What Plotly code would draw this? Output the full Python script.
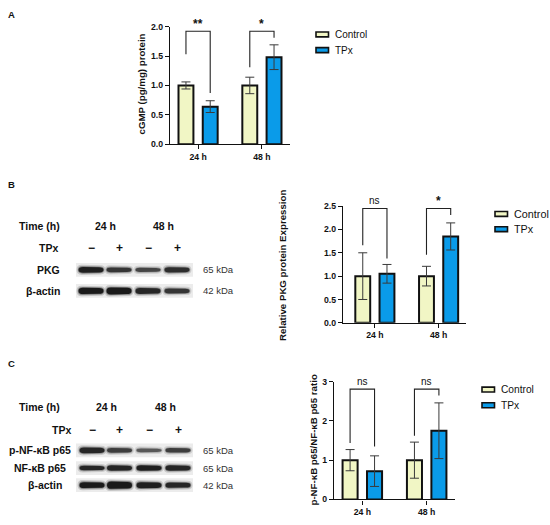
import plotly.graph_objects as go

groups = ["24 h", "48 h"]

# A: cGMP (pg/mg) protein
cgmp_ctrl = [1.0, 1.0]
cgmp_ctrl_err = [0.06, 0.14]
cgmp_tpx = [0.64, 1.48]
cgmp_tpx_err = [0.10, 0.21]

# B: relative PKG protein expression
pkg_ctrl = [1.0, 1.0]
pkg_ctrl_err = [0.5, 0.21]
pkg_tpx = [1.05, 1.85]
pkg_tpx_err = [0.2, 0.29]

# C: p-NF-kB p65 / NF-kB p65 ratio
nfkb_ctrl = [1.0, 1.0]
nfkb_ctrl_err = [0.27, 0.46]
nfkb_tpx = [0.72, 1.75]
nfkb_tpx_err = [0.39, 0.71]

# significance brackets: label, top, end of left leg, end of right leg
sig_a = [("**", 1.92, 1.53, 0.87), ("*", 1.92, 1.31, 1.81)]
sig_b = [("ns", 2.45, 1.66, 1.38), ("*", 2.45, 1.46, 2.31)]
sig_c = [("ns", 2.81, 1.44, 1.35), ("ns", 2.81, 1.62, 2.65)]

# western blot band darkness / thickness per lane (24h -, 24h +, 48h -, 48h +)
blot_b = {
    "PKG": ([0.9, 0.75, 0.65, 0.8], [3.0, 2.5, 2.1, 2.7], "65 kDa"),
    "β-actin": ([0.95, 0.95, 0.85, 0.75], [3.2, 3.5, 3.0, 2.5], "42 kDa"),
}
blot_c = {
    "p-NF-κB p65": ([0.85, 0.7, 0.55, 0.7], [3.0, 2.5, 1.9, 2.3], "65 kDa"),
    "NF-κB p65": ([0.85, 0.85, 0.9, 0.85], [2.3, 2.7, 2.7, 2.7], "65 kDa"),
    "β-actin": ([0.95, 0.95, 0.9, 0.85], [3.0, 3.7, 3.1, 2.7], "42 kDa"),
}
lane_signs = ["−", "+", "−", "+"]

CTRL = "#F1F6C5"
TPX = "#0A9BE9"
FONT = "Liberation Sans, Arial, sans-serif"
W, H = 550, 525

fig = go.Figure()

panels = [
    dict(ctrl=cgmp_ctrl, ce=cgmp_ctrl_err, tpx=cgmp_tpx, te=cgmp_tpx_err, sig=sig_a,
         xa="x", ya="y", xs=(170, 290), ys=(22, 142), yr=[0, 2], dt=0.5, fmt=".1f", xr=[-0.44, 1.44]),
    dict(ctrl=pkg_ctrl, ce=pkg_ctrl_err, tpx=pkg_tpx, te=pkg_tpx_err, sig=sig_b,
         xa="x2", ya="y2", xs=(343, 466), ys=(205, 324), yr=[0, 2.5], dt=0.5, fmt=".1f", xr=[-0.5, 1.43]),
    dict(ctrl=nfkb_ctrl, ce=nfkb_ctrl_err, tpx=nfkb_tpx, te=nfkb_tpx_err, sig=sig_c,
         xa="x3", ya="y3", xs=(334, 455), ys=(384, 504), yr=[0, 3], dt=1, fmt="d", xr=[-0.44, 1.44]),
]

shapes = []
annotations = []
off = 0.19

for i, p in enumerate(panels):
    for name, vals, errs, col in [("Control", p["ctrl"], p["ce"], CTRL), ("TPx", p["tpx"], p["te"], TPX)]:
        fig.add_trace(go.Bar(
            x=groups, y=vals, name=name, xaxis=p["xa"], yaxis=p["ya"], showlegend=False,
            marker=dict(color=col, line=dict(color="#111111", width=2)),
            error_y=dict(type="data", array=errs, color="#3a3a3a", thickness=1, width=4.5),
        ))
    sfx = "" if i == 0 else str(i + 1)
    axis_font = dict(family=FONT, size=8.7, color="#111111", weight="bold")
    xd = [p["xs"][0] / W, p["xs"][1] / W]
    yd = [1 - p["ys"][1] / H, 1 - p["ys"][0] / H]
    fig.update_layout({
        "xaxis" + sfx: dict(domain=xd, anchor=p["ya"], range=p["xr"],
                            showline=True, linecolor="#111111", linewidth=1.4, ticks="outside",
                            ticklen=4, tickwidth=1.4, tickcolor="#111111", tickfont=axis_font,
                            showgrid=False, zeroline=False),
        "yaxis" + sfx: dict(domain=yd, anchor=p["xa"],
                            range=p["yr"], dtick=p["dt"], tickformat=p["fmt"],
                            showline=True, linecolor="#111111", linewidth=1.4, ticks="outside",
                            ticklen=4, tickwidth=1.4, tickcolor="#111111", tickfont=axis_font,
                            showgrid=False, zeroline=False),
    })
    for g, (lab, top, yl, yr) in enumerate(p["sig"]):
        x0, x1 = g - off, g + off
        shapes.append(dict(type="path", xref=p["xa"], yref=p["ya"],
                           path=f"M {x0},{yl} L {x0},{top} L {x1},{top} L {x1},{yr}",
                           line=dict(color="#222222", width=1.1)))
        annotations.append(dict(xref=p["xa"], yref=p["ya"], x=g, y=top, text=lab, showarrow=False,
                                yanchor="bottom", yshift=-2 if lab != "ns" else 0,
                                font=dict(family=FONT, size=12 if lab != "ns" else 10,
                                          color="#111111", weight="bold" if lab != "ns" else "normal")))

# full-figure overlay in pixels for blots, labels and legends
fig.update_layout(
    xaxis4=dict(domain=[0, 1], range=[0, W], visible=False, anchor="y4", fixedrange=True),
    yaxis4=dict(domain=[0, 1], range=[H, 0], visible=False, anchor="x4", fixedrange=True),
)


def txt(x, y, s, size=10.5, anchor="center", bold=True, color="#111111", angle=0):
    annotations.append(dict(xref="x4", yref="y4", x=x, y=y, text=s, showarrow=False,
                            xanchor=anchor, yanchor="middle", textangle=angle,
                            font=dict(family=FONT, size=size, color=color,
                                      weight="bold" if bold else "normal")))


def band_path(xc, yc, w, h):
    x0, x1 = xc - w / 2, xc + w / 2
    r = w * 0.18
    return (f"M {x0},{yc} Q {x0},{yc - h} {x0 + r},{yc - h} L {x1 - r},{yc - h * 0.9} "
            f"Q {x1},{yc - h * 0.9} {x1},{yc} Q {x1},{yc + h * 0.9} {x1 - r},{yc + h * 0.9} "
            f"L {x0 + r},{yc + h} Q {x0},{yc + h} {x0},{yc} Z")


def draw_blot(rows, row_y, lanes, label_x, label_anchor):
    for (name, (dark, thick, kda)), yc in zip(rows.items(), row_y):
        shapes.append(dict(type="rect", xref="x4", yref="y4", x0=76, x1=193, y0=yc - 7, y1=yc + 7,
                           fillcolor="#ececec", line=dict(width=0), layer="below"))
        for xc, d, h in zip(lanes, dark, thick):
            for dw, dh, op in [(4, 2.2, 0.18), (1.5, 0.9, 0.4), (0, 0, 1.0)]:
                shapes.append(dict(type="path", xref="x4", yref="y4",
                                   path=band_path(xc, yc, 25 + dw, h + dh),
                                   fillcolor="#141414", opacity=d * op, line=dict(width=0)))
        lx = label_x[name]
        txt(lx, yc, name, anchor=label_anchor)
        txt(201, yc, kda, size=9.5, anchor="left", bold=False, color="#333333")


lanes_b = [91, 119, 148, 177]
lanes_c = [92, 119.5, 149, 178]

# panel letters
txt(6, 10, "A", size=9.5, anchor="left")
txt(6, 183, "B", size=9.5, anchor="left")
txt(6, 365, "C", size=9.5, anchor="left")

# blot B
txt(62, 225, "Time (h)", anchor="right")
txt(105, 225, "24 h")
txt(163, 225, "48 h")
txt(60, 248, "TPx", anchor="right")
for x, s in zip(lanes_b, lane_signs):
    txt(x, 248, s, size=12)
draw_blot(blot_b, [270, 291.5], lanes_b, {"PKG": 62, "β-actin": 62}, "right")

# blot C
txt(62, 410, "Time (h)", anchor="right")
txt(106, 410, "24 h")
txt(165, 410, "48 h")
txt(73, 433, "TPx", anchor="right")
for x, s in zip(lanes_c, lane_signs):
    txt(x, 433, s, size=12)
draw_blot(blot_c, [454, 472, 489.5], lanes_c,
          {"p-NF-κB p65": 73, "NF-κB p65": 68, "β-actin": 64}, "right")

# y axis titles
txt(141, 81, "cGMP (pg/mg) protein", size=9.7, angle=-90)
txt(283, 266, "Relative PKG protein Expression", size=9.7, angle=-90)
txt(314, 444, "p-NF-κB p65/NF-κB p65 ratio", size=9.7, angle=-90)

# legends
for bx, by, gap, size in [(316, 30, 16, 10), (495, 213, 15.5, 10.8), (482, 392, 16, 10.2)]:
    for k, (name, col) in enumerate([("Control", CTRL), ("TPx", TPX)]):
        y = by + k * gap
        shapes.append(dict(type="rect", xref="x4", yref="y4", x0=bx, x1=bx + 12.5,
                           y0=y - 2.5, y1=y + 2.5, fillcolor=col,
                           line=dict(color="#111111", width=1.6)))
        txt(bx + 17, y, name, size=size, anchor="left", bold=False)

fig.update_layout(
    width=W, height=H, margin=dict(l=0, r=0, t=0, b=0),
    paper_bgcolor="white", plot_bgcolor="rgba(0,0,0,0)",
    barmode="group", bargap=0.24, bargroupgap=0.385,
    shapes=shapes, annotations=annotations,
)

# drop the page's default body margin so the figure sits at the window corner
fig.write_html("out.html", config={"displayModeBar": False},
               post_script="document.body.style.margin='0px';")
